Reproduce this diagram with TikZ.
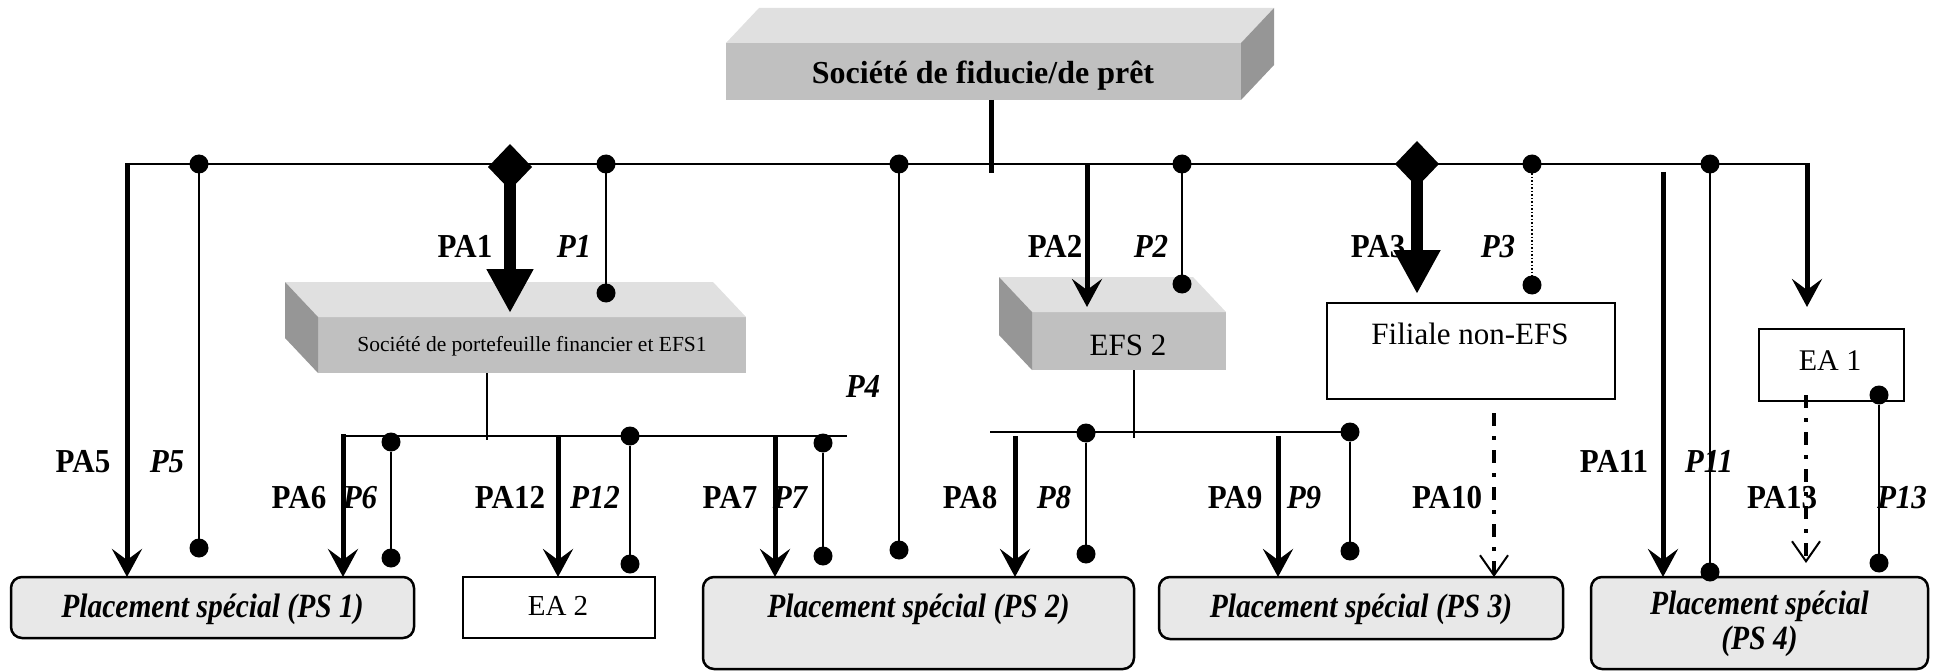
\documentclass[tikz,border=0pt]{standalone}
\usepackage{fontspec}
\setmainfont{Liberation Serif}
\usetikzlibrary{arrows.meta,shapes.geometric}
\definecolor{frontgray}{HTML}{C0C0C0}
\definecolor{topgray}{HTML}{E0E0E0}
\definecolor{sidegray}{HTML}{969696}
\definecolor{psfill}{HTML}{E8E8E8}
\newcommand{\lblt}[1]{\scalebox{1}[1.08]{#1}}
\newcommand{\pstt}[1]{\scalebox{1}[1.15]{#1}}
\begin{document}
\begin{tikzpicture}[x=1pt,y=-1pt,
  face/.style={fill=frontgray,draw=none,inner sep=0pt,outer sep=0pt},
  psbox/.style={draw=black,line width=2.5pt,rounded corners=11pt,fill=psfill,inner sep=0pt,outer sep=0pt},
  wbox/.style={draw=black,line width=2pt,fill=white,inner sep=0pt,outer sep=0pt},
  btxt/.style={font=\fontsize{31}{31}\selectfont,anchor=base,inner sep=0pt},
  lbl/.style={font=\fontsize{31}{31}\selectfont\bfseries,anchor=base,inner sep=0pt},
  plbl/.style={font=\fontsize{31}{31}\selectfont\bfseries\itshape,anchor=base,inner sep=0pt},
  pstxt/.style={font=\fontsize{29.5}{30}\selectfont\bfseries\itshape,anchor=base,inner sep=0pt},
  dot/.style={circle,fill=black,inner sep=0pt,outer sep=0pt,minimum size=19pt},
  dmd/.style={diamond,fill=black,inner sep=0pt,outer sep=0pt,minimum width=44pt,minimum height=46pt},
  bus/.style={line width=2pt},
  pline/.style={line width=1.6pt},
  arr/.style={line width=5pt,-{Stealth[length=28pt,width=30pt,inset=11pt]}},
  bigarr/.style={line width=12pt,-{Triangle[length=44pt,width=44pt]}},
  ddarr/.style={line width=4pt,dash pattern=on 13pt off 10pt on 4pt off 10pt,-{Straight Barb[length=20pt,width=28pt,line width=2pt]}},
]
\useasboundingbox (0,0) rectangle (1946,671);

% ---------- 3D boxes ----------
\node[face,minimum width=515pt,minimum height=57pt] (top) at (983.5,71.5) {};
\fill[topgray] (top.north west) -- ++(33,-35) -- ([shift={(33,-35)}]top.north east) -- (top.north east) -- cycle;
\fill[sidegray] (top.north east) -- ++(33,-35) -- ([shift={(33,-35)}]top.south east) -- (top.south east) -- cycle;
\node[lbl,font=\fontsize{32}{32}\selectfont\bfseries] (toptxt) at (983,84) {Société de fiducie/de prêt};

\node[face,minimum width=428pt,minimum height=56pt] (b2) at (532,345) {};
\fill[topgray] (b2.north west) -- ++(-33,-35) -- ([shift={(-33,-35)}]b2.north east) -- (b2.north east) -- cycle;
\fill[sidegray] (b2.north west) -- ++(-33,-35) -- ([shift={(-33,-35)}]b2.south west) -- (b2.south west) -- cycle;
\node[btxt,font=\fontsize{21.5}{22}\selectfont] (b2txt) at (532,351) {Société de portefeuille financier et EFS1};

\node[face,minimum width=194pt,minimum height=58pt] (efs) at (1129,341) {};
\fill[topgray] (efs.north west) -- ++(-33,-35) -- ([shift={(-33,-35)}]efs.north east) -- (efs.north east) -- cycle;
\fill[sidegray] (efs.north west) -- ++(-33,-35) -- ([shift={(-33,-35)}]efs.south west) -- (efs.south west) -- cycle;
\node[btxt] (efstxt) at (1128,355) {EFS 2};

% ---------- plain boxes ----------
\node[wbox,minimum width=288pt,minimum height=96pt] (fil) at (1471,351) {};
\node[btxt] (filtxt) at (1470,344) {Filiale non-EFS};
\node[wbox,minimum width=145pt,minimum height=72pt] (ea1) at (1831.5,365) {};
\node[btxt,font=\fontsize{30}{30}\selectfont] (ea1txt) at (1830,370) {EA 1};
\node[wbox,minimum width=192pt,minimum height=61pt] (ea2) at (559,607.5) {};
\node[btxt,font=\fontsize{29}{29}\selectfont] (ea2txt) at (558,615) {EA 2};

% ---------- PS boxes ----------
\node[psbox,minimum width=403pt,minimum height=61pt] (ps1) at (212.5,607.5) {};
\node[pstxt] (ps1txt) at (212.5,617) {\pstt{Placement spécial (PS 1)}};
\node[psbox,minimum width=431pt,minimum height=92pt] (ps2) at (918.5,623) {};
\node[pstxt] (ps2txt) at (918.5,617) {\pstt{Placement spécial (PS 2)}};
\node[psbox,minimum width=404pt,minimum height=62pt] (ps3) at (1361,608) {};
\node[pstxt] (ps3txt) at (1361,617) {\pstt{Placement spécial (PS 3)}};
\node[psbox,minimum width=337pt,minimum height=92pt] (ps4) at (1759.5,623) {};
\node[pstxt] (ps4txta) at (1759.5,614) {\pstt{Placement spécial}};
\node[pstxt] (ps4txtb) at (1759.5,649) {\pstt{(PS 4)}};

% ---------- labels ----------
\node[lbl] (lPA1) at (465,258) {\lblt{PA1}};   \node[plbl] (lP1) at (574,258) {\lblt{P1}};
\node[lbl] (lPA2) at (1055,257) {\lblt{PA2}};  \node[plbl] (lP2) at (1151,257) {\lblt{P2}};
\node[lbl] (lPA3) at (1378,258) {\lblt{PA3}};  \node[plbl] (lP3) at (1498,258) {\lblt{P3}};
\node[plbl] (lP4) at (863,397) {\lblt{P4}};
\node[lbl] (lPA5) at (83,472) {\lblt{PA5}};    \node[plbl] (lP5) at (167,472) {\lblt{P5}};
\node[lbl] (lPA6) at (299,508) {\lblt{PA6}};   \node[plbl] (lP6) at (360,508) {\lblt{P6}};
\node[lbl] (lPA12) at (510,508) {\lblt{PA12}}; \node[plbl] (lP12) at (595,508) {\lblt{P12}};
\node[lbl] (lPA7) at (730,508) {\lblt{PA7}};   \node[plbl] (lP7) at (790,508) {\lblt{P7}};
\node[lbl] (lPA8) at (970,508) {\lblt{PA8}};   \node[plbl] (lP8) at (1054,508) {\lblt{P8}};
\node[lbl] (lPA9) at (1235,508) {\lblt{PA9}};  \node[plbl] (lP9) at (1304,508) {\lblt{P9}};
\node[lbl] (lPA10) at (1447,508) {\lblt{PA10}};
\node[lbl] (lPA11) at (1614,472) {\lblt{PA11}}; \node[plbl] (lP11) at (1709,472) {\lblt{P11}};
\node[lbl] (lPA13) at (1782,508) {\lblt{PA13}}; \node[plbl] (lP13) at (1902,508) {\lblt{P13}};

% ---------- coordinates ----------
\coordinate (busL) at (127,164);
\coordinate (busR) at (1807,164);
\coordinate (stem) at (991,173);
\coordinate (pa2s) at (1087,164);
\coordinate (pa2e) at (1087,307);
\coordinate (pa1e) at (510,313);
\coordinate (pa3e) at (1417,294);
\coordinate (pa4e) at (1807,307);
\coordinate (pa11s) at (1663,172);
\coordinate (sb1L) at (342,436);
\coordinate (sb1R) at (847,436);
\coordinate (sb2L) at (990,432);
\coordinate (pa6s) at (343,434);
\coordinate (pa12s) at (558,436);
\coordinate (pa7s) at (775,436);
\coordinate (pa8s) at (1015,436);
\coordinate (pa9s) at (1278,436);
\coordinate (pa10s) at (1494,413);
\coordinate (pa13s) at (1806,395);
\coordinate (pa13e) at (1806,563);
\coordinate (b2stem) at (487,440);
\coordinate (efsstem) at (1134,438);

% ---------- dots ----------
\node[dot] (p5a) at (199,164) {};   \node[dot] (p5b) at (199,548) {};
\node[dot] (p1a) at (606,164) {};   \node[dot] (p1b) at (606,293) {};
\node[dot] (p4a) at (899,164) {};   \node[dot] (p4b) at (899,550) {};
\node[dot] (p2a) at (1182,164) {};  \node[dot] (p2b) at (1182,284) {};
\node[dot] (p3a) at (1532,164) {};  \node[dot] (p3b) at (1532,285) {};
\node[dot] (p11a) at (1710,164) {}; \node[dot] (p11b) at (1710,572) {};
\node[dot] (p6a) at (391,442) {};   \node[dot] (p6b) at (391,558) {};
\node[dot] (p12a) at (630,436) {};  \node[dot] (p12b) at (630,564) {};
\node[dot] (p7a) at (823,443) {};   \node[dot] (p7b) at (823,556) {};
\node[dot] (p8a) at (1086,433) {};  \node[dot] (p8b) at (1086,554) {};
\node[dot] (p9a) at (1350,432) {};  \node[dot] (p9b) at (1350,551) {};
\node[dot] (p13a) at (1879,395) {}; \node[dot] (p13b) at (1879,563) {};
\node[dmd] (d1) at (510,167) {};
\node[dmd] (d3) at (1417,164) {};

% ---------- lines ----------
\draw[bus] (busL) -- (busR);
\draw[line width=5pt] (top.south -| stem) -- (stem);
\draw[line width=5pt,-{Stealth[length=28pt,width=30pt,inset=11pt]}] ([yshift=1pt]busL) -- (busL |- ps1.north);
\draw[line width=5pt,-{Stealth[length=28pt,width=30pt,inset=11pt]}] ([yshift=1pt]busR) -- (pa4e);
\draw[arr] (pa2s) -- (pa2e);
\draw[bigarr] (d1.center) -- (pa1e);
\draw[bigarr] (d3.center) -- (pa3e);
\draw[arr] (pa11s) -- (pa11s |- ps4.north);

\draw[pline] (p5a) -- (p5b);
\draw[pline] (p1a) -- (p1b);
\draw[pline] (p4a) -- (p4b);
\draw[pline] (p2a) -- (p2b);
\draw[line width=1.5pt,dotted] (p3a) -- (p3b);
\draw[pline] (p11a) -- (p11b);

% sub-bus 1
\draw[bus] (sb1L) -- (sb1R);
\draw[bus] (b2.south -| b2stem) -- (b2stem);
\draw[arr] (pa6s) -- (pa6s |- ps1.north);
\draw[arr] (pa12s) -- (pa12s |- ea2.north);
\draw[arr] (pa7s) -- (pa7s |- ps2.north);
\draw[pline] (p6a) -- (p6b);
\draw[pline] (p12a) -- (p12b);
\draw[pline] (p7a) -- (p7b);

% sub-bus 2
\draw[bus] (sb2L) -- (p9a);
\draw[bus] (efs.south -| efsstem) -- (efsstem);
\draw[arr] (pa8s) -- (pa8s |- ps2.north);
\draw[arr] (pa9s) -- (pa9s |- ps3.north);
\draw[pline] (p8a) -- (p8b);
\draw[pline] (p9a) -- (p9b);

% dash-dot arrows
\draw[ddarr] (pa10s) -- (pa10s |- ps3.north);
\draw[ddarr] (pa13s) -- (pa13e);
\draw[pline] (p13a) -- (p13b);
\end{tikzpicture}
\end{document}
